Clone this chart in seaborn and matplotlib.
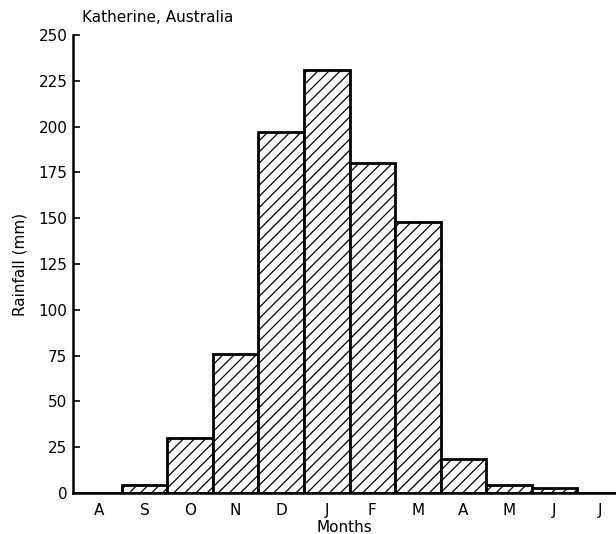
import matplotlib
matplotlib.use("Agg")
import matplotlib.pyplot as plt
import seaborn as sns
import pandas as pd

month_keys = ["Aug", "Sep", "Oct", "Nov", "Dec", "Jan", "Feb", "Mar", "Apr", "May", "Jun", "Jul"]
month_labels = ["A", "S", "O", "N", "D", "J", "F", "M", "A", "M", "J", "J"]
rainfall = [0, 4.5, 30, 76, 197, 231, 180, 148, 18.5, 4.5, 2.5, 0]
y_ticks = [0, 25, 50, 75, 100, 125, 150, 175, 200, 225, 250]

sns.set_style("ticks")
plt.rcParams["font.family"] = ["DejaVu Sans"]
plt.rcParams["hatch.linewidth"] = 0.9
plt.rcParams["hatch.color"] = "black"
plt.rcParams["text.color"] = "black"
plt.rcParams["axes.labelcolor"] = "black"
plt.rcParams["xtick.color"] = "black"
plt.rcParams["ytick.color"] = "black"

df = pd.DataFrame({"month": month_keys, "rain": rainfall})

fig = plt.figure(figsize=(6.16, 5.34), dpi=100)
ax = fig.add_axes([73 / 616, 1 - 493 / 534, (616 - 73) / 616, (493 - 35) / 534])

sns.barplot(data=df, x="month", y="rain", order=month_keys, width=1.0,
            color="white", edgecolor="black", linewidth=2, hatch="///",
            errorbar=None, ax=ax)
for p in ax.patches:
    p.set_facecolor("white")
    p.set_hatch("///")

ax.set_xlim(-0.571, 11.35)
ax.set_ylim(0, 250)
ax.set_yticks(y_ticks)
ax.set_yticklabels([str(v) for v in y_ticks], fontsize=11)
ax.set_xticks(range(len(month_labels)))
ax.set_xticklabels(month_labels, fontsize=11)
ax.tick_params(axis="x", length=0, pad=7)
ax.tick_params(axis="y", direction="in", length=5, width=1.2, pad=4)

sns.despine(ax=ax, top=True, right=True)
for s in ["left", "bottom"]:
    ax.spines[s].set_linewidth(1.8)
    ax.spines[s].set_color("black")

ax.set_xlabel("Months", fontsize=11, labelpad=2)
ax.set_ylabel("Rainfall (mm)", fontsize=11)
ax.yaxis.set_label_coords(-0.083, 0.5)
fig.text(82 / 616, 1 - 17 / 534, "Katherine, Australia", fontsize=11,
         ha="left", va="center")

fig.savefig("out.png", dpi=100, facecolor="white")
